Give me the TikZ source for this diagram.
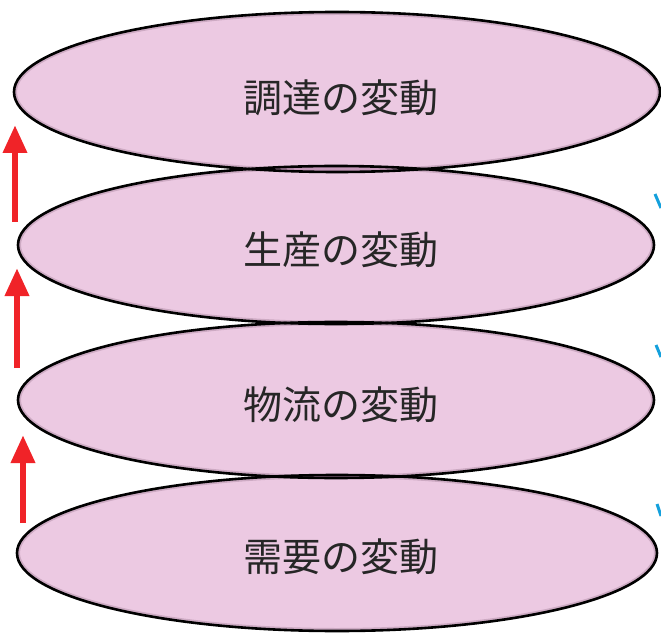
\documentclass[tikz,border=0pt]{standalone}
\usepackage{fontspec}
\newfontfamily\cjk{Noto Sans CJK JP}
\usetikzlibrary{arrows.meta}
\definecolor{disc}{RGB}{236,201,226}
\definecolor{discdark}{RGB}{196,150,184}
\definecolor{discshade}{RGB}{205,170,195}
\definecolor{arrowred}{RGB}{240,35,40}
\definecolor{cyanmark}{RGB}{20,160,220}
\tikzset{
  x=1pt, y=-1pt,
  disclabel/.style={font=\cjk\fontsize{39}{39}\selectfont, inner sep=0pt, text=black!85},
  discline/.style={draw=black, line width=2.6pt},
  uparrow/.style={draw=arrowred, line width=6.5pt, -{Triangle[width=23pt,length=28pt]}},
  cutmark/.style={draw=cyanmark, line width=3pt}
}
\begin{document}
\begin{tikzpicture}
\useasboundingbox (0,0) rectangle (661,636);
% discs (fill)
\def\EA{(337,92) ellipse [x radius=323, y radius=80]}
\def\EB{(336,245) ellipse [x radius=318, y radius=79]}
\def\EC{(336,400) ellipse [x radius=318, y radius=78]}
\def\ED{(337,553) ellipse [x radius=320, y radius=78]}
\fill[disc] \ED; \fill[disc] \EC; \fill[disc] \EB; \fill[disc] \EA;
% inner shade near rims
\begin{scope}\clip \EA; \draw[discshade, line width=6pt] \EA; \end{scope}
\begin{scope}\clip \EB; \draw[discshade, line width=6pt] \EB; \end{scope}
\begin{scope}\clip \EC; \draw[discshade, line width=6pt] \EC; \end{scope}
\begin{scope}\clip \ED; \draw[discshade, line width=6pt] \ED; \end{scope}
% overlaps
\begin{scope}\clip \EA; \fill[discdark] \EB; \end{scope}
\begin{scope}\clip \EB; \fill[discdark] \EC; \end{scope}
\begin{scope}\clip \EC; \fill[discdark] \ED; \end{scope}
% outlines
\draw[discline] \ED; \draw[discline] \EC; \draw[discline] \EB; \draw[discline] \EA;
% labels
\node[disclabel] (chotatsu) at (341,98) {調達の変動};
\node[disclabel] (seisan) at (341,250) {生産の変動};
\node[disclabel] (butsuryu) at (341,405) {物流の変動};
\node[disclabel] (juyou) at (341,557) {需要の変動};
% red arrows
\coordinate (a1s) at (15,222); \coordinate (a1e) at (15,125);
\coordinate (a2s) at (17,368); \coordinate (a2e) at (17,268);
\coordinate (a3s) at (23,523); \coordinate (a3e) at (23,435);
\draw[uparrow] (a1s) -- (a1e);
\draw[uparrow] (a2s) -- (a2e);
\draw[uparrow] (a3s) -- (a3e);
% cut-off cyan marks at right edge
\coordinate (c1s) at (655,194); \coordinate (c1e) at (661,208);
\coordinate (c2s) at (656,345); \coordinate (c2e) at (661,357);
\coordinate (c3s) at (657,504); \coordinate (c3e) at (661,516);
\draw[cutmark] (c1s) -- (c1e);
\draw[cutmark] (c2s) -- (c2e);
\draw[cutmark] (c3s) -- (c3e);
\end{tikzpicture}
\end{document}
